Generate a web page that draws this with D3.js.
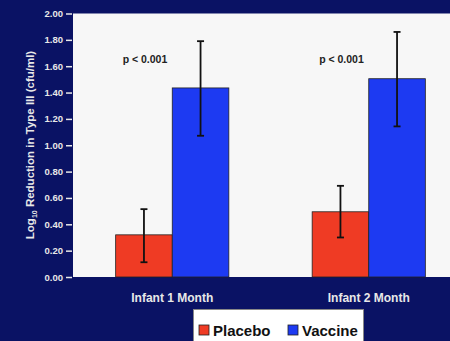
<!DOCTYPE html>
<html><head><meta charset="utf-8">
<script src="https://cdn.jsdelivr.net/npm/d3@7"></script>
<style>html,body{margin:0;padding:0;background:#0a1264;}svg{display:block;}</style>
</head><body>
<svg id="c" width="450" height="341"></svg>
<script>
const categories = ["Infant 1 Month", "Infant 2 Month"];
const series = ["Placebo", "Vaccine"];
const placeboValues = [0.32, 0.495];
const vaccineValues = [1.435, 1.505];
const placeboLow = [0.112, 0.30];
const placeboHigh = [0.515, 0.692];
const vaccineLow = [1.072, 1.143];
const vaccineHigh = [1.79, 1.86];
const pLabels = ["p < 0.001", "p < 0.001"];
const yTicks = [0, 0.2, 0.4, 0.6, 0.8, 1.0, 1.2, 1.4, 1.6, 1.8, 2.0];
const colors = {Placebo: "#ef3b24", Vaccine: "#1d3af2"};

const svg = d3.select("#c");
const font = "Arial, 'Liberation Sans', sans-serif";
const y = d3.scaleLinear().domain([0, 2]).range([277, 13.5]);
const x0 = d3.scaleBand().domain(categories).range([74, 467]).paddingInner(0.424).paddingOuter(0.212);
const x1 = d3.scaleBand().domain(series).range([0, x0.bandwidth()]);

// plot area
svg.append("rect").attr("x", 73).attr("y", y(2)).attr("width", 450 - 73).attr("height", y(0) - y(2)).attr("fill", "#f7f7f7");

// y axis
const yAxis = d3.axisLeft(y).tickValues(yTicks).tickFormat(d3.format(".2f")).tickSize(6).tickPadding(3);
const gy = svg.append("g").attr("transform", "translate(72,0)").call(yAxis);
gy.select(".domain").remove();
gy.selectAll(".tick line").attr("stroke", "#e8e8e8").attr("stroke-width", 1.5);
gy.selectAll(".tick text").attr("fill", "#e8e8e8").attr("font-family", font).attr("font-weight", "bold").attr("font-size", "9.5px");

// y title
const yt = svg.append("text").attr("transform", "translate(34,145) rotate(-90)")
  .attr("text-anchor", "middle").attr("fill", "#e8e8e8").attr("font-family", font)
  .attr("font-weight", "bold").attr("font-size", "11.5px");
yt.append("tspan").text("Log");
yt.append("tspan").text("10").attr("font-size", "7px").attr("dy", 3);
yt.append("tspan").text(" Reduction in Type III (cfu/ml)").attr("dy", -3);

// bars
const data = categories.map((c, i) => ({
  cat: c,
  vals: [
    {s: "Placebo", v: placeboValues[i], lo: placeboLow[i], hi: placeboHigh[i]},
    {s: "Vaccine", v: vaccineValues[i], lo: vaccineLow[i], hi: vaccineHigh[i]}
  ]
}));
const g = svg.selectAll(".grp").data(data).enter().append("g")
  .attr("transform", d => `translate(${x0(d.cat)},0)`);
g.selectAll("rect").data(d => d.vals).enter().append("rect")
  .attr("x", d => x1(d.s)).attr("width", x1.bandwidth())
  .attr("y", d => y(d.v)).attr("height", d => y(0) - y(d.v))
  .attr("fill", d => colors[d.s]).attr("stroke", "#222").attr("stroke-width", 0.8);

// error bars
const eb = g.selectAll(".eb").data(d => d.vals).enter().append("g");
const cx = d => x1(d.s) + x1.bandwidth() / 2;
eb.append("line").attr("x1", cx).attr("x2", cx).attr("y1", d => y(d.lo)).attr("y2", d => y(d.hi))
  .attr("stroke", "#111").attr("stroke-width", 1.8);
eb.append("line").attr("x1", d => cx(d) - 3.5).attr("x2", d => cx(d) + 3.5).attr("y1", d => y(d.hi)).attr("y2", d => y(d.hi))
  .attr("stroke", "#111").attr("stroke-width", 1.8);
eb.append("line").attr("x1", d => cx(d) - 3.5).attr("x2", d => cx(d) + 3.5).attr("y1", d => y(d.lo)).attr("y2", d => y(d.lo))
  .attr("stroke", "#111").attr("stroke-width", 1.8);

// p labels
svg.selectAll(".p").data(categories).enter().append("text")
  .attr("x", (d) => x0(d) + x1("Placebo") + x1.bandwidth() / 2 + 1)
  .attr("y", 63).attr("text-anchor", "middle").attr("fill", "#222")
  .attr("font-family", font).attr("font-weight", "bold").attr("font-size", "10.5px")
  .text((d, i) => pLabels[i]);

// category labels
svg.selectAll(".cl").data(categories).enter().append("text")
  .attr("x", d => x0(d) + x0.bandwidth() / 2).attr("y", 301.5)
  .attr("text-anchor", "middle").attr("fill", "#e8e8e8")
  .attr("font-family", font).attr("font-weight", "bold").attr("font-size", "12px")
  .text(d => d);

// legend
const lg = svg.append("g");
lg.append("rect").attr("x", 193.5).attr("y", 309.5).attr("width", 170).attr("height", 40)
  .attr("fill", "#ffffff").attr("stroke", "#888").attr("stroke-width", 1);
const items = [{s: "Placebo", x: 199}, {s: "Vaccine", x: 288}];
items.forEach(it => {
  lg.append("rect").attr("x", it.x).attr("y", 325).attr("width", 10).attr("height", 10)
    .attr("fill", colors[it.s]).attr("stroke", "#222").attr("stroke-width", 0.8);
  lg.append("text").attr("x", it.x + 14).attr("y", 335.5).attr("fill", "#111")
    .attr("font-family", font).attr("font-weight", "bold").attr("font-size", "15px").text(it.s);
});
</script>
</body></html>
